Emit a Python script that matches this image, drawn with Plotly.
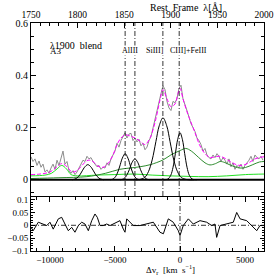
import numpy as np
import plotly.graph_objects as go

# ---------------- data ----------------
# observed spectrum, evenly sampled in rest-frame wavelength
wave = np.linspace(1750.0, 1998.9, 117)
flux = [0.088, 0.070, 0.080, 0.055, 0.072, 0.048, 0.060, 0.030, 0.038, 0.025,
        0.045, 0.060, 0.040, 0.075, 0.055, 0.085, 0.110, 0.060, 0.070, 0.035,
        0.025, 0.035, 0.020, 0.030, 0.045, 0.060, 0.075, 0.070, 0.090, 0.080,
        0.085, 0.070, 0.060, 0.050, 0.055, 0.040, 0.048, 0.045, 0.065, 0.055,
        0.080, 0.095, 0.110, 0.140, 0.125, 0.150, 0.165, 0.180, 0.160, 0.175,
        0.178, 0.150, 0.160, 0.145, 0.155, 0.130, 0.140, 0.115, 0.125, 0.150,
        0.165, 0.200, 0.225, 0.270, 0.300, 0.330, 0.360, 0.345, 0.300, 0.275,
        0.265, 0.300, 0.295, 0.310, 0.350, 0.362, 0.310, 0.290, 0.265, 0.240,
        0.215, 0.200, 0.185, 0.160, 0.150, 0.135, 0.110, 0.120, 0.095, 0.085,
        0.080, 0.095, 0.085, 0.100, 0.090, 0.070, 0.085, 0.075, 0.060, 0.080,
        0.050, 0.065, 0.040, 0.055, 0.045, 0.060, 0.040, 0.055, 0.065, 0.075,
        0.090, 0.070, 0.095, 0.085, 0.080, 0.090, 0.075]

# total model (magenta)
model_wave = [1750.0, 1759.7, 1770.4, 1777.9, 1783.3, 1788.6, 1794.0, 1799.4, 1804.7,
              1811.2, 1816.5, 1821.9, 1827.3, 1832.6, 1838.0, 1842.3, 1846.6, 1850.9,
              1856.2, 1861.6, 1867.0, 1872.3, 1877.7, 1883.1, 1888.4, 1891.6, 1895.9,
              1900.2, 1904.5, 1907.7, 1909.9, 1913.1, 1917.4, 1920.6, 1926.0, 1931.3,
              1936.7, 1942.1, 1947.4, 1952.8, 1958.2, 1963.5, 1968.9, 1974.3, 1979.6,
              1985.0, 1990.4, 1995.7, 2000.0]
model_flux = [0.020, 0.022, 0.030, 0.050, 0.062, 0.050, 0.030, 0.035, 0.055,
              0.075, 0.070, 0.052, 0.048, 0.062, 0.095, 0.135, 0.160, 0.172,
              0.168, 0.160, 0.148, 0.135, 0.160, 0.220, 0.305, 0.345, 0.310,
              0.280, 0.290, 0.330, 0.350, 0.310, 0.260, 0.230, 0.180, 0.130,
              0.100, 0.085, 0.088, 0.090, 0.082, 0.070, 0.060, 0.055, 0.058,
              0.068, 0.080, 0.086, 0.088]

# individual line components (black)
siiii_wave = [1860.0, 1866.0, 1872.0, 1876.0, 1880.0, 1884.0, 1887.6, 1891.6,
              1895.6, 1899.2, 1903.2, 1907.2, 1911.2, 1917.2, 1925.0]
siiii_flux = [0.000, 0.001, 0.009, 0.031, 0.076, 0.146, 0.207, 0.237,
              0.207, 0.146, 0.076, 0.031, 0.009, 0.001, 0.000]
ciii_wave = [1891.9, 1896.9, 1899.9, 1902.4, 1904.9, 1907.4, 1909.9, 1912.4,
             1914.9, 1917.4, 1919.9, 1922.9, 1927.9]
ciii_flux = [0.000, 0.003, 0.017, 0.048, 0.100, 0.155, 0.180, 0.155,
             0.100, 0.048, 0.017, 0.003, 0.000]
aliii1_wave = [1835.0, 1839.0, 1842.0, 1845.0, 1848.0, 1851.0, 1854.0, 1857.0,
               1860.0, 1863.0, 1867.0]
aliii1_flux = [0.000, 0.005, 0.020, 0.049, 0.083, 0.100, 0.083, 0.049,
               0.020, 0.005, 0.000]
aliii2_wave = [1845.5, 1849.5, 1852.5, 1855.5, 1858.5, 1861.5, 1864.5, 1867.5,
               1870.5, 1873.5, 1877.5]
aliii2_flux = [0.000, 0.004, 0.016, 0.039, 0.067, 0.080, 0.067, 0.039,
               0.016, 0.004, 0.000]
siii_wave = [1794.0, 1799.0, 1803.0, 1807.0, 1811.0, 1815.0, 1819.0, 1823.0, 1828.0]
siii_flux = [0.000, 0.006, 0.022, 0.046, 0.058, 0.046, 0.022, 0.006, 0.000]

# broad / FeIII template (dark green)
fe3_wave = [1750, 1780, 1810, 1830, 1845, 1856, 1867, 1878, 1891.6, 1900, 1910,
            1916, 1922, 1930, 1936.7, 1942, 1948, 1953, 1958, 1964, 1974, 1980,
            1988, 1995, 2000]
fe3_flux = [0.005, 0.008, 0.012, 0.025, 0.040, 0.045, 0.050, 0.058, 0.076, 0.095,
            0.112, 0.120, 0.110, 0.085, 0.065, 0.057, 0.062, 0.070, 0.066, 0.056,
            0.045, 0.047, 0.058, 0.068, 0.070]

# FeII template (bright green)
fe2_wave = [1750, 1765, 1772, 1778, 1783, 1788, 1793, 1800, 1820, 1840, 1860,
            1880, 1900, 1920, 1940, 1960, 1980, 2000]
fe2_flux = [0.015, 0.018, 0.025, 0.042, 0.055, 0.042, 0.020, 0.015, 0.018, 0.020,
            0.022, 0.018, 0.015, 0.013, 0.012, 0.015, 0.020, 0.022]

# residuals (bottom panel) vs velocity
res_vel = [-11460, -11290, -10900, -10520, -10250, -10000, -9750, -9360, -9100,
           -8850, -8590, -8330, -8080, -7820, -7560, -7310, -7050, -6790, -6540,
           -6360, -6150, -5900, -5640, -5380, -5130, -4870, -4620, -4360, -4230,
           -4100, -3850, -3590, -3080, -2560, -2050, -1540, -1280, -900, -520,
           -130, 0, 250, 640, 1020, 1540, 2050, 2440, 2690, 2820, 3080, 3590,
           4100, 4360, 4620, 5130, 5640, 5900, 6150, 6410]
res_val = [-0.008, -0.021, 0.012, 0.005, -0.001, 0.012, -0.015, 0.025, 0.031,
           0.005, -0.021, -0.008, -0.027, -0.001, 0.012, 0.005, -0.021, 0.018, 0.044,
           0.031, -0.001, -0.001, 0.005, -0.001, 0.005, 0.012, 0.018, -0.015, -0.027,
           0.025, 0.012, -0.001, -0.001, 0.005, 0.012, -0.027, -0.033, 0.025, 0.012,
           -0.021, -0.040, -0.001, 0.025, 0.005, 0.018, 0.012, -0.001, 0.005, -0.047,
           -0.001, 0.005, 0.012, 0.050, 0.025, 0.018, -0.008, -0.021, -0.001, -0.001]

# marked lines
line_waves = [1851.0, 1861.5, 1891.5, 1909.0]
line_labels = ["AlIII", "SiIII]", "CIII]+FeIII"]
label_pos = [1856.2, 1883.5, 1918.5]

wave_ticks = [1750, 1800, 1850, 1900, 1950, 2000]
vel_ticks = [-10000, -5000, 0, 5000]
res_ticks = [-0.1, -0.05, 0, 0.05, 0.1]
res_ticktext = ["\u22120.1", "\u22120.05", "0", "0.05", "0.1"]

# ---------------- figure ----------------
FONT = "Liberation Serif"
fig = go.Figure()

fig.add_trace(go.Scatter(x=wave, y=flux, mode="lines",
                         line=dict(color="#8c8c8c", width=1), xaxis="x", yaxis="y"))
fig.add_trace(go.Scatter(x=fe2_wave, y=fe2_flux, mode="lines", line_shape="spline",
                         line=dict(color="#22e022", width=1), xaxis="x", yaxis="y"))
fig.add_trace(go.Scatter(x=fe3_wave, y=fe3_flux, mode="lines", line_shape="spline",
                         line=dict(color="#2e8b2e", width=1), xaxis="x", yaxis="y"))
for xw, yf in [(siiii_wave, siiii_flux), (ciii_wave, ciii_flux),
               (aliii1_wave, aliii1_flux), (aliii2_wave, aliii2_flux),
               (siii_wave, siii_flux)]:
    fig.add_trace(go.Scatter(x=xw, y=yf, mode="lines", line_shape="spline",
                             line=dict(color="black", width=1), xaxis="x", yaxis="y"))
fig.add_trace(go.Scatter(x=model_wave, y=model_flux, mode="lines", line_shape="spline",
                         line=dict(color="#ff00ff", width=1, dash="4px,2px"),
                         xaxis="x", yaxis="y"))
fig.add_trace(go.Scatter(x=res_vel, y=res_val, mode="lines",
                         line=dict(color="black", width=1), xaxis="x2", yaxis="y2"))

DASHDOT = "5px,2px,1px,2px"
shapes = [
    dict(type="line", xref="paper", x0=0, x1=1, yref="y", y0=0, y1=0,
         line=dict(color="black", width=2)),
    dict(type="line", xref="paper", x0=0, x1=1, yref="y2", y0=0, y1=0,
         line=dict(color="black", width=0.8, dash=DASHDOT)),
    dict(type="line", xref="x2", x0=0, x1=0, yref="y2 domain", y0=0, y1=1,
         line=dict(color="black", width=0.8, dash=DASHDOT)),
]
for lw in line_waves:
    shapes.append(dict(type="line", xref="x", x0=lw, x1=lw, yref="y domain", y0=0, y1=1,
                       line=dict(color="black", width=0.8, dash=DASHDOT)))

annotations = []
for txt, xp in zip(line_labels, label_pos):
    annotations.append(dict(text=txt, x=xp, y=0.495, xref="x", yref="y", showarrow=False,
                            font=dict(family=FONT, size=8, color="black"),
                            bgcolor="white", borderpad=0))
annotations += [
    dict(text="\u03bb1900  blend", x=1768, y=0.515, xref="x", yref="y", showarrow=False,
         xanchor="left", font=dict(family=FONT, size=10, color="black")),
    dict(text="A3", x=1768, y=0.493, xref="x", yref="y", showarrow=False,
         xanchor="left", font=dict(family=FONT, size=9, color="black")),
    dict(text="Rest  Frame  \u03bb[\u00c5]", x=0.665, y=1.1, xref="paper", yref="paper",
         yanchor="top", showarrow=False, font=dict(family=FONT, size=10, color="black")),
    dict(text="\u0394v<sub>r</sub>  [km  s<sup>\u22121</sup>]", x=0.60, y=-0.045,
         xref="paper", yref="paper", showarrow=False, yanchor="top",
         font=dict(family=FONT, size=9, color="black")),
]

tickfont = dict(family=FONT, size=10, color="black")
common = dict(showgrid=False, zeroline=False, ticks="inside", tickcolor="black",
              tickfont=tickfont, showline=True, linecolor="black", linewidth=1,
              automargin=False)

fig.update_layout(
    width=279, height=279, margin=dict(l=31, r=15, t=23, b=28, autoexpand=False),
    paper_bgcolor="white", plot_bgcolor="white", showlegend=False,
    xaxis=dict(domain=[0, 1], anchor="y", side="top", range=[1750, 2000],
               tickvals=wave_ticks, ticklen=5,
               minor=dict(dtick=10, tick0=1750, ticks="inside", ticklen=3, tickcolor="black"),
               **common),
    xaxis3=dict(overlaying="x", anchor="y", side="bottom", range=[-11460, 6460],
                tickvals=vel_ticks, ticklen=5, showticklabels=False,
                minor=dict(dtick=1000, tick0=0, ticks="inside", ticklen=3, tickcolor="black"),
                showgrid=False, zeroline=False, ticks="inside", tickcolor="black",
                showline=True, linecolor="#9a9a9a", linewidth=2, automargin=False),
    yaxis=dict(domain=[0.2412, 1], anchor="x", range=[-0.062, 0.6],
               tickvals=[0, 0.2, 0.4, 0.6], ticktext=["0", "0.2", "0.4", "0.6"], ticklen=5,
               minor=dict(dtick=0.05, tick0=0, ticks="inside", ticklen=3, tickcolor="black"),
               mirror="ticks", **common),
    xaxis2=dict(domain=[0, 1], anchor="y2", range=[-11460, 6460],
                tickvals=vel_ticks, ticktext=["\u221210000", "\u22125000", "0", "5000"],
                ticklen=5,
                minor=dict(dtick=1000, tick0=0, ticks="inside", ticklen=3, tickcolor="black"),
                mirror="ticks", **common),
    yaxis2=dict(domain=[0, 0.2368], anchor="x2", range=[-0.1, 0.11],
                tickvals=res_ticks, ticktext=res_ticktext, ticklen=4,
                minor=dict(dtick=0.01, tick0=0, ticks="inside", ticklen=2, tickcolor="black"),
                mirror="ticks", **common),
    shapes=shapes, annotations=annotations,
)
fig.update_layout(yaxis2_tickfont=dict(family=FONT, size=9, color="black"),
                  xaxis2_tickfont=dict(family=FONT, size=9, color="black"),
                  xaxis_tickfont=dict(family=FONT, size=9.5, color="black"))

fig.write_html("out.html", config={"displayModeBar": False},
               post_script="document.body.style.margin='0px';")
